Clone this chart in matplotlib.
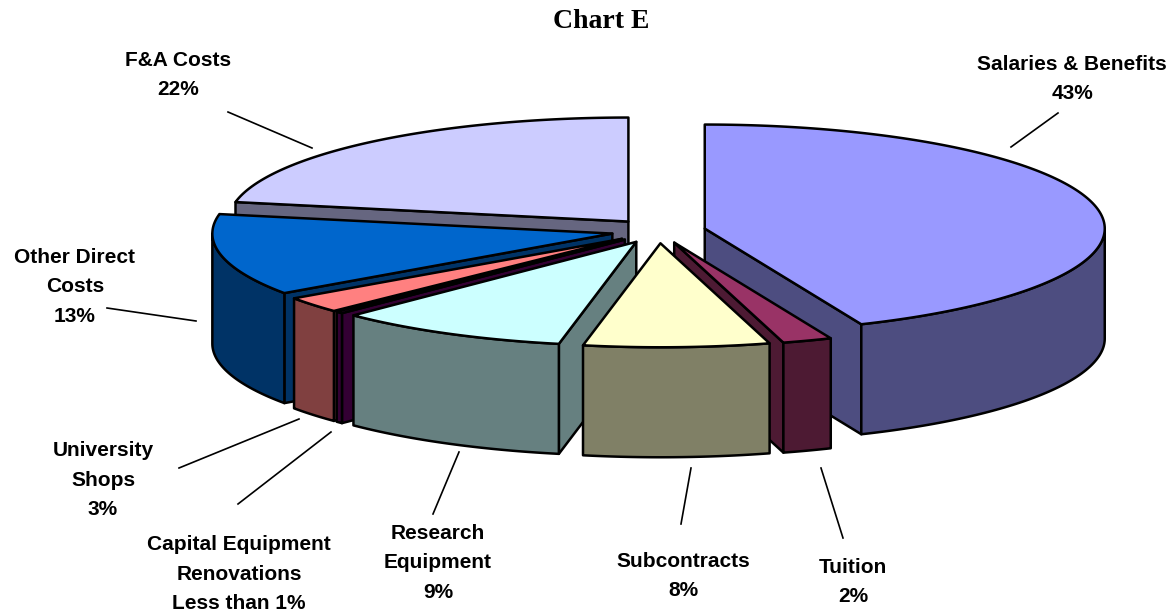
import numpy as np
import matplotlib
matplotlib.use("Agg")
import matplotlib.pyplot as plt
from matplotlib.colors import to_rgb

# Data (clockwise from 12 o'clock)
categories = [
	"Salaries & Benefits", "Tuition", "Subcontracts", "Research\nEquipment",
	"Capital Equipment\nRenovations", "University\nShops", "Other Direct\nCosts", "F&A Costs",
]
shares = [43.6, 2.0, 7.5, 9.4, 0.3, 2.5, 12.7, 22.0]
share_labels = ["43%", "2%", "8%", "9%", "Less than 1%", "3%", "13%", "22%"]

# Style
top_colors = ["#9999FF", "#993366", "#FFFFCC", "#CCFFFF", "#660066", "#FF8080", "#0066CC", "#CCCCFF"]
label_centers = [
	(1072, 79), (853, 582), (683, 576), (438, 563),
	(239, 574), (103, 480), (75, 287), (178, 75),
]
leaders = [
	((1058, 113), (1011, 147)), ((843, 538), (821, 468)), ((681, 524), (691, 468)),
	((433, 514), (459, 452)), ((238, 504), (331, 432)), ((179, 468), (299, 419)),
	((107, 308), (196, 321)), ((228, 112), (312, 148)),
]

# Pie geometry in pixels
CX, CY = 658.5, 231.0
RX, RY = 400.0, 104.0
DEPTH = 110.0
EXPLODE = 0.118
LW = 1.8


def darken(color, k=0.5):
	return tuple(c * k for c in to_rgb(color))


def rim(theta, apex):
	"""Points of the rim for clockwise angles (radians) measured from the top."""
	return apex[0] + RX * np.sin(theta), apex[1] - RY * np.cos(theta)


def draw_slice(ax, start, end, color):
	mid = (start + end) / 2
	apex = (CX + EXPLODE * RX * np.sin(mid), CY - EXPLODE * RY * np.cos(mid))
	side = darken(color)
	style = dict(edgecolor="black", linewidth=LW, joinstyle="round")

	# Radial walls that face the viewer
	for theta, visible in ((start, np.sin(start) < 0), (end, np.sin(end) > 0)):
		if visible:
			x, y = rim(theta, apex)
			ax.fill(
				[apex[0], x, x, apex[0]],
				[apex[1], y, y + DEPTH, apex[1] + DEPTH],
				facecolor=side, **style,
			)

	# Outer curved face, front half only
	front_start = max(start, np.pi / 2)
	front_end = min(end, 3 * np.pi / 2)
	if front_end > front_start:
		t = np.linspace(front_start, front_end, 80)
		x, y = rim(t, apex)
		ax.fill(
			np.concatenate([x, x[::-1]]),
			np.concatenate([y, y[::-1] + DEPTH]),
			facecolor=side, **style,
		)

	# Top
	t = np.linspace(start, end, 160)
	x, y = rim(t, apex)
	ax.fill(
		np.concatenate([[apex[0]], x]),
		np.concatenate([[apex[1]], y]),
		facecolor=color, **style,
	)


def main():
	fig = plt.figure(figsize=(11.75, 6.11), dpi=100)
	ax = fig.add_axes([0, 0, 1, 1])
	ax.set_xlim(0, 1175)
	ax.set_ylim(611, 0)
	ax.axis("off")

	# Slice angles from the shares
	edges = np.radians(np.cumsum([0] + shares) / sum(shares) * 360)
	slices = list(zip(edges[:-1], edges[1:], top_colors))

	# Back to front
	slices.sort(key=lambda s: -np.cos((s[0] + s[1]) / 2))
	for start, end, color in slices:
		draw_slice(ax, start, end, color)

	for (p0, p1) in leaders:
		ax.plot([p0[0], p1[0]], [p0[1], p1[1]], color="black", linewidth=1.2)

	for name, pct, (x, y) in zip(categories, share_labels, label_centers):
		ax.text(
			x, y, f"{name}\n{pct}", ha="center", va="center", ma="center",
			family="Liberation Sans", fontweight="bold", fontsize=15,
			linespacing=1.67, color="black",
		)

	ax.text(
		601, 21, "Chart E", ha="center", va="center",
		family="Liberation Serif", fontweight="bold", fontsize=20, color="black",
	)

	fig.savefig("out.png", dpi=100)


if __name__ == "__main__":
	main()
